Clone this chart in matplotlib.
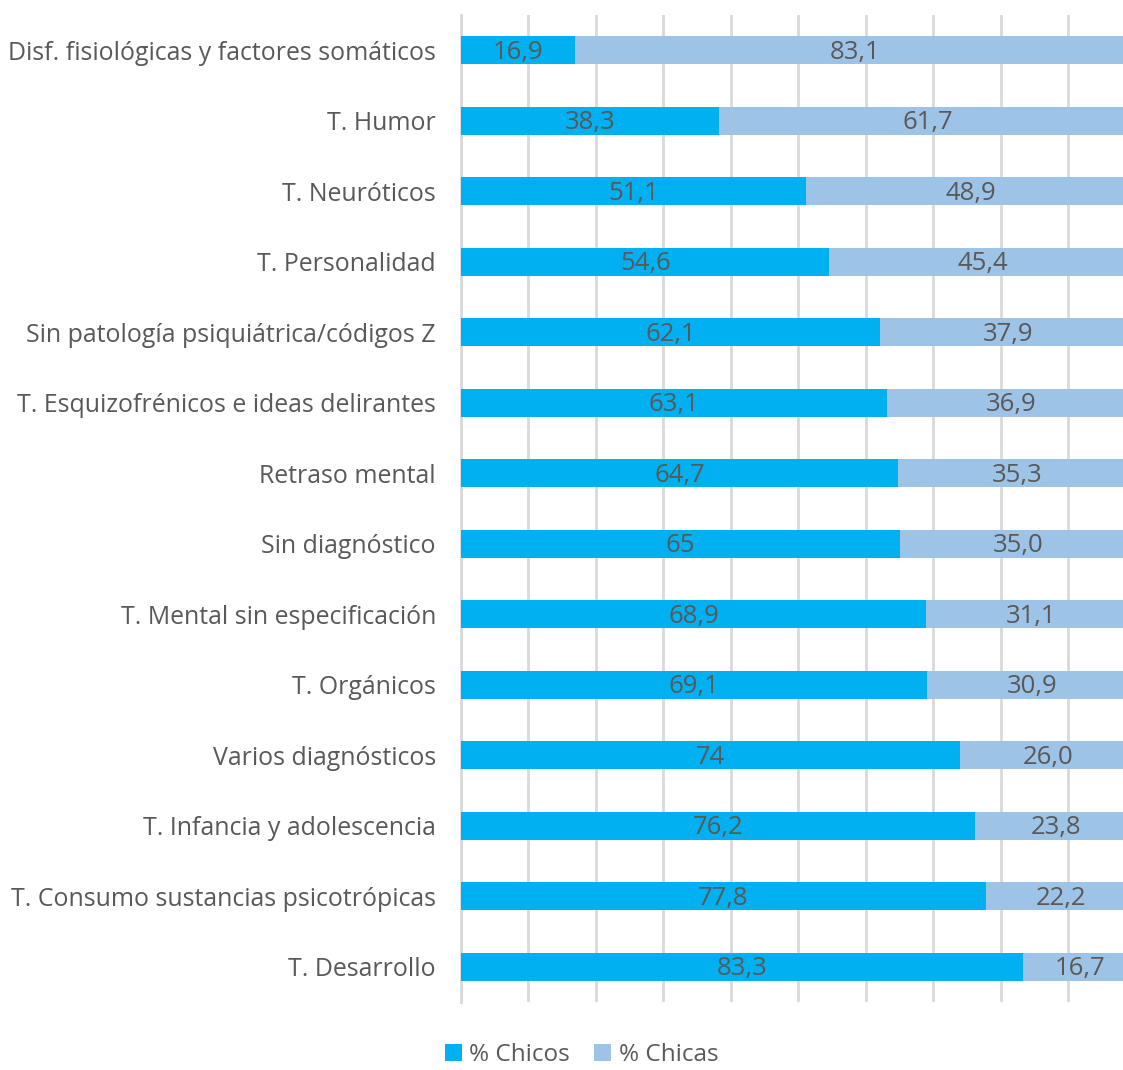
import matplotlib.pyplot as plt

categories = [
    "Disf. fisiológicas y factores somáticos",
    "T. Humor",
    "T. Neuróticos",
    "T. Personalidad",
    "Sin patología psiquiátrica/códigos Z",
    "T. Esquizofrénicos e ideas delirantes",
    "Retraso mental",
    "Sin diagnóstico",
    "T. Mental sin especificación",
    "T. Orgánicos",
    "Varios diagnósticos",
    "T. Infancia y adolescencia",
    "T. Consumo sustancias psicotrópicas",
    "T. Desarrollo",
]
chicos = [16.9, 38.3, 51.1, 54.6, 62.1, 63.1, 64.7, 65, 68.9, 69.1, 74, 76.2, 77.8, 83.3]
chicas = [83.1, 61.7, 48.9, 45.4, 37.9, 36.9, 35.3, 35.0, 31.1, 30.9, 26.0, 23.8, 22.2, 16.7]
chicos_labels = ["16,9", "38,3", "51,1", "54,6", "62,1", "63,1", "64,7", "65",
                 "68,9", "69,1", "74", "76,2", "77,8", "83,3"]
chicas_labels = ["83,1", "61,7", "48,9", "45,4", "37,9", "36,9", "35,3", "35,0",
                 "31,1", "30,9", "26,0", "23,8", "22,2", "16,7"]

plt.rcParams['font.family'] = ['Open Sans', 'DejaVu Sans']
text_color = '#595959'

fig = plt.figure(figsize=(11.23, 10.70), dpi=100)
# plot area runs past the right edge of the picture (cropped original)
ax = fig.add_axes([0.4105, 0.0636, 0.601, 0.9224])

y = list(range(len(categories)))
b1 = ax.barh(y, chicos, height=0.4, color='#00B0F0', label='% Chicos', zorder=3)
b2 = ax.barh(y, chicas, left=chicos, height=0.4, color='#9DC3E6', label='% Chicas', zorder=3)
for bars, labs in [(b1, chicos_labels), (b2, chicas_labels)]:
    for rect, lab in zip(bars, labs):
        ax.text(rect.get_x() + rect.get_width() / 2, rect.get_y() + rect.get_height() / 2 + 0.03,
                lab, ha='center', va='center', color=text_color, fontsize=18.5, zorder=4)

ax.set_xlim(0, 100)
ax.set_ylim(len(categories) - 0.5, -0.5)
ax.set_yticks(y)
ax.set_yticklabels(categories, fontsize=17.9, color=text_color)
ax.tick_params(axis='y', length=0, pad=18)
ax.set_xticks(range(0, 101, 10))
ax.tick_params(axis='x', length=0, labelbottom=False)
ax.grid(axis='x', color='#d9d9d9', linewidth=2, zorder=0)
for s in ['top', 'right', 'bottom']:
    ax.spines[s].set_visible(False)
ax.spines['left'].set_color('#d9d9d9')
ax.spines['left'].set_linewidth(2)

fig.legend(handles=[b1, b2], loc='center', bbox_to_anchor=(0.518, 0.014),
           ncol=2, frameon=False, fontsize=17.5, labelcolor=text_color,
           handlelength=0.7, handleheight=0.7, handletextpad=0.3, columnspacing=1.0,
           borderpad=0.1)

fig.savefig('out.png', dpi=100)
